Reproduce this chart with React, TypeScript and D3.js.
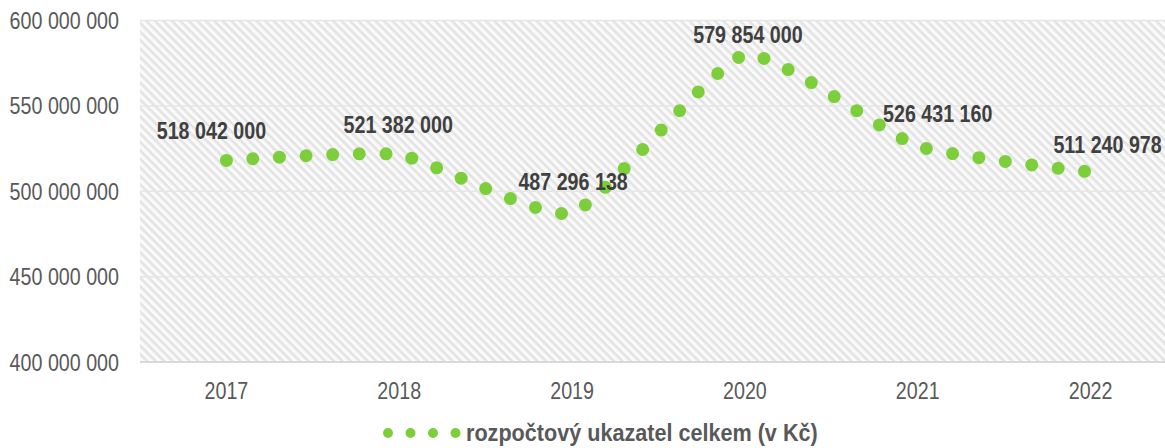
import React from 'react'
import * as d3 from 'd3'

// rozpočtový ukazatel celkem (v Kč), 2017–2022
const years = ['2017', '2018', '2019', '2020', '2021', '2022']
const budgetTotal = [518042000, 521382000, 487296138, 579854000, 526431160, 511240978]
const yTicks = [400000000, 450000000, 500000000, 550000000, 600000000]
const seriesName = 'rozpočtový ukazatel celkem (v Kč)'

// manual label placement (as moved in the original chart)
const labelNudge: [number, number][] = [[-15, -21], [-1, -22], [1, -23], [3, -12], [20, -24], [17, -19]]

const W = 1165
const H = 448
const FONT = "'Liberation Sans', Arial, sans-serif"
const NARROW = 0.82 // no narrow face installed, squeeze the regular one

const BudgetChart = () => {
  const svgRef = React.useRef<SVGSVGElement>(null)

  React.useEffect(() => {
    const svg = d3.select(svgRef.current)
    svg.selectAll('*').remove()

    const left = 140
    const right = 1177
    const top = 20.5
    const bottom = 362

    const fmt = d3.formatLocale({ decimal: ',', thousands: ' ', grouping: [3], currency: ['', ' Kč'] }).format(',d')
    const place = (px: number, py: number, k = NARROW) => `translate(${px},${py}) scale(${k},1)`

    const x = d3.scaleBand<string>().domain(years).range([left, right])
    const cx = (d: string) => (x(d) as number) + x.bandwidth() / 2
    const y = d3.scaleLinear().domain([400000000, 600000000]).range([bottom, top])

    const defs = svg.append('defs')
    const pat = defs.append('pattern')
      .attr('id', 'hatch')
      .attr('patternUnits', 'userSpaceOnUse')
      .attr('width', 6)
      .attr('height', 6)
      .attr('patternTransform', 'rotate(45)')
    pat.append('rect').attr('width', 6).attr('height', 6).attr('fill', '#fafafa')
    pat.append('rect').attr('width', 6).attr('height', 2.6).attr('fill', '#e3e3e3')

    svg.append('rect')
      .attr('x', left)
      .attr('y', top)
      .attr('width', right - left)
      .attr('height', bottom - top)
      .attr('fill', 'url(#hatch)')

    // horizontal grid
    svg.append('g')
      .selectAll('line')
      .data(yTicks.slice(1))
      .join('line')
      .attr('x1', left)
      .attr('x2', right)
      .attr('y1', (d) => y(d))
      .attr('y2', (d) => y(d))
      .attr('stroke', '#e6e6e6')
      .attr('stroke-width', 1.5)

    svg.append('line')
      .attr('x1', left)
      .attr('x2', right)
      .attr('y1', bottom)
      .attr('y2', bottom)
      .attr('stroke', '#d9d9d9')
      .attr('stroke-width', 2)

    // y tick labels
    svg.append('g')
      .attr('font-family', FONT)
      .attr('font-size', 24)
      .attr('fill', '#595959')
      .attr('text-anchor', 'end')
      .selectAll('text')
      .data(yTicks)
      .join('text')
      .attr('transform', (d) => place(119, y(d) + 8.5))
      .text((d) => fmt(d))

    // x tick labels
    svg.append('g')
      .attr('font-family', FONT)
      .attr('font-size', 24)
      .attr('fill', '#595959')
      .attr('text-anchor', 'middle')
      .selectAll('text')
      .data(years)
      .join('text')
      .attr('transform', (d) => place(cx(d), 399))
      .text((d) => d)

    const line = d3.line<number>()
      .x((_, i) => cx(years[i]))
      .y((d) => y(d))
      .curve(d3.curveCardinal.tension(0.5))

    svg.append('path')
      .datum(budgetTotal)
      .attr('d', line)
      .attr('fill', 'none')
      .attr('stroke', '#7ccf3a')
      .attr('stroke-width', 13)
      .attr('stroke-linecap', 'round')
      .attr('stroke-dasharray', '0 26.6')

    // data labels
    svg.append('g')
      .attr('font-family', FONT)
      .attr('font-size', 24)
      .attr('font-weight', 'bold')
      .attr('fill', '#404040')
      .attr('text-anchor', 'middle')
      .selectAll('text')
      .data(budgetTotal)
      .join('text')
      .attr('transform', (d, i) => place(cx(years[i]) + labelNudge[i][0], y(d) + labelNudge[i][1]))
      .text((d) => fmt(d))

    // legend
    const lg = svg.append('g')
    lg.append('line')
      .attr('x1', 388)
      .attr('x2', 456)
      .attr('y1', 433)
      .attr('y2', 433)
      .attr('stroke', '#7ccf3a')
      .attr('stroke-width', 10)
      .attr('stroke-linecap', 'round')
      .attr('stroke-dasharray', '0 22.5')
    lg.append('text')
      .attr('transform', place(466, 441, 0.9))
      .attr('font-family', FONT)
      .attr('font-size', 24)
      .attr('font-weight', 'bold')
      .attr('fill', '#595959')
      .text(seriesName)
  }, [])

  return <svg ref={svgRef} width={W} height={H} style={{ position: 'absolute', left: 0, top: 0, background: '#fff' }} />
}

export default function App() {
  return <BudgetChart />
}
